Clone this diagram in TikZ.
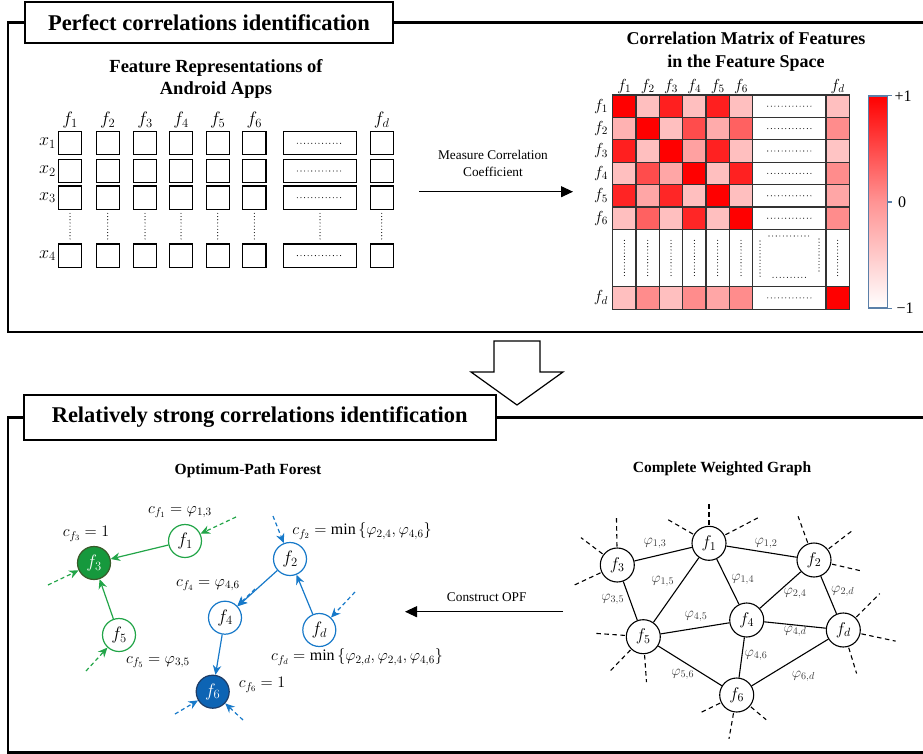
\documentclass[tikz,border=0pt]{standalone}
\usepackage{fix-cm}
\usepackage{fontspec}
\setmainfont{Liberation Serif}
\usetikzlibrary{arrows.meta}
\definecolor{ogreen}{HTML}{22A548}
\definecolor{ogreenF}{HTML}{16993D}
\definecolor{ogreenD}{HTML}{3A5A2A}
\definecolor{oblue}{HTML}{1779C9}
\definecolor{oblueF}{HTML}{0D64B4}
\definecolor{oblueD}{HTML}{1E3C66}
\definecolor{cbar}{HTML}{5A7FA8}
\definecolor{mgrid}{HTML}{333333}
\definecolor{wgray}{HTML}{3C3C3C}
\begin{document}
\begin{tikzpicture}[x=1pt,y=-1pt,
 frame/.style={line width=2.6pt},
 titlebox/.style={draw, line width=2pt, fill=white, inner sep=0pt, font=\fontsize{22.5}{27}\selectfont\bfseries},
 htitle/.style={align=center, font=\fontsize{18.5}{22.5}\selectfont\bfseries, inner sep=0pt},
 subtitle/.style={font=\fontsize{15.5}{18}\selectfont\bfseries, inner sep=0pt},
 mathlab/.style={font=\fontsize{18}{20}\selectfont, inner sep=0pt},
 mlab/.style={font=\fontsize{16}{18}\selectfont, inner sep=0pt},
 fcell/.style={draw, line width=1.1pt, minimum width=23.3pt, minimum height=23.3pt, inner sep=0pt, outer sep=0pt},
 mcell/.style={draw=mgrid, line width=1.1pt, minimum width=23.33pt, minimum height=22.4pt, inner sep=0pt, outer sep=0pt},
 dotln/.style={line width=1.1pt, line cap=round, dash pattern=on 0pt off 3.6pt},
 vdotln/.style={line width=1.1pt, line cap=round, dash pattern=on 0pt off 3.2pt},
 bigarr/.style={line width=1.1pt, -{Triangle[length=12pt,width=11pt]}},
 smalltxt/.style={font=\fontsize{13.3}{17}\selectfont, inner sep=0pt, align=center},
 cbtxt/.style={font=\fontsize{16}{18}\selectfont, inner sep=0pt},
 onode/.style={circle, draw, line width=1.2pt, fill=white, minimum size=33pt, inner sep=0pt, font=\fontsize{18}{20}\selectfont},
 gnode/.style={circle, draw, line width=1.1pt, fill=white, minimum size=34pt, inner sep=0pt, font=\fontsize{17}{19}\selectfont},
 oarr/.style={line width=1.2pt, -{Stealth[length=9.5pt,width=8.5pt]}},
 odash/.style={oarr, dash pattern=on 4pt off 3pt},
 gedge/.style={line width=1.1pt},
 stub/.style={line width=1.1pt, dash pattern=on 4.5pt off 3.5pt},
 wlab/.style={font=\fontsize{14.5}{16}\selectfont, text=wgray, inner sep=0pt},
 clab/.style={font=\fontsize{16}{18}\selectfont, inner sep=0pt}
]
\useasboundingbox (0,0) rectangle (923,754);

% ================= top frame =================
\node[titlebox, minimum width=368pt, minimum height=41.5pt] (t1) at (209,22.5) {Perfect correlations identification};
\draw[frame] (t1.west) -- (8,22.5) -- (8,332) -- (923,332);
\draw[frame] (t1.east) -- (923,22.5);

% feature representations
\node[htitle] (frt) at (216,79) {Feature Representations of\\Android Apps};
\foreach \xx [count=\k] in {70,107.7,145,181,217.7,254.3}{
  \node[mathlab] (fl\k) at (\xx,120) {$f_{\k}$};
}
\node[mathlab] (fld) at (381.7,120) {$f_d$};
\foreach \i/\yy in {1/143.3,2/171,3/197.7,4/255.6}{
  \node[mathlab, anchor=east] (xl\i) at (56,\yy) {$x_{\i}$};
  \foreach \xx [count=\k] in {70,107.7,145,181,217.7,254.3}{
    \node[fcell] (c\i-\k) at (\xx,\yy) {};
  }
  \node[fcell, minimum width=73.3pt] (c\i-w) at (320,\yy) {};
  \draw[dotln] ([xshift=14pt]c\i-w.west) -- ([xshift=-14pt]c\i-w.east);
  \node[fcell] (c\i-d) at (381.7,\yy) {};
}
\foreach \k in {1,...,6,w,d}{
  \draw[vdotln] ([yshift=-4pt]c3-\k.south) -- ([yshift=5pt]c4-\k.north);
}

% measure arrow
\coordinate (mA) at (419,191.7);
\coordinate (mB) at (573,191.7);
\draw[bigarr] (mA) -- (mB);
\node[smalltxt] (mtxt) at (493,163.5) {Measure Correlation\\Coefficient};

% correlation matrix
\node[htitle, font=\fontsize{18}{23}\selectfont\bfseries] (cmt) at (746,51.5) {Correlation Matrix of Features\\in the Feature Space};
\foreach \i/\yy/\va/\vb/\vc/\vd/\ve/\vf/\vg in {
 1/106.2/100/25/88/25/88/25/25,
 2/128.6/30/100/25/70/33/62/45,
 3/151/88/25/100/37/87/25/23,
 4/173.4/25/70/35/100/25/87/45,
 5/195.8/86/35/85/25/100/25/35,
 6/218.2/25/62/25/85/25/100/45,
 7/297.9/25/45/25/45/35/45/100}{
  \foreach \v [count=\k] in {\va,\vb,\vc,\vd,\ve,\vf}{
    \edef\pct{\v}
    \node[mcell, fill=red!\pct!white] (m\i-\k) at ({612.7+23.33*(\k-0.5)},\yy) {};
  }
  \node[mcell, minimum width=73.3pt, fill=white] (m\i-w) at (789.35,\yy) {};
  \draw[dotln] ([xshift=15pt]m\i-w.west) -- ([xshift=-15pt]m\i-w.east);
  \edef\pct{\vg}
  \node[mcell, fill=red!\pct!white] (m\i-d) at (837.65,\yy) {};
}
\foreach \k in {1,...,6}{
  \node[mcell, minimum height=57.3pt, fill=white] (mD-\k) at ({612.7+23.33*(\k-0.5)},258) {};
  \draw[vdotln] ([yshift=-11pt]mD-\k.north) -- ([yshift=10pt]mD-\k.south);
  \node[mlab] (mc\k) at ({612.7+23.33*(\k-0.5)},86.5) {$f_{\k}$};
}
\node[mcell, minimum width=73.3pt, minimum height=57.3pt, fill=white] (mD-w) at (789.35,258) {};
\draw[dotln] (769,236) -- (809,236);
\draw[vdotln] (760,241) -- (760,277);
\draw[dotln] (773,277.3) -- (809,277.3);
\draw[vdotln] (819,239) -- (819,273);
\node[mcell, minimum height=57.3pt, fill=white] (mD-d) at (837.65,258) {};
\draw[vdotln] ([yshift=-11pt]mD-d.north) -- ([yshift=10pt]mD-d.south);
\node[mlab] (mcd) at (837.65,86.5) {$f_d$};
\foreach \i/\yy in {1/106.2,2/128.6,3/151,4/173.4,5/195.8,6/218.2}{
  \node[mlab] (mr\i) at (601,\yy) {$f_{\i}$};
}
\node[mlab] (mrd) at (601,297.9) {$f_d$};

% colour bar
\node[draw=cbar, line width=1.2pt, minimum width=19pt, minimum height=212pt, inner sep=0pt,
      top color=red, bottom color=white, middle color=red!42] (cb) at (877.8,202) {};
\draw[cbar, line width=1.2pt] (cb.north east) -- ++(4,0);
\draw[cbar, line width=1.2pt] (cb.east) -- ++(4,0);
\draw[cbar, line width=1.2pt] (cb.south east) -- ++(4,0);
\node[cbtxt] (cbp) at (903,96) {+1};
\node[cbtxt] (cbz) at (902,202) {0};
\node[cbtxt] (cbm) at (905,308.5) {−1};

% hollow arrow between stages
\draw[line width=1.2pt, fill=white] (494,341) -- (540,341) -- (540,372) -- (563,372) -- (517,405) -- (471,372) -- (494,372) -- cycle;

% ================= bottom frame =================
\node[titlebox, minimum width=472.5pt, minimum height=45pt] (t2) at (259.75,417.5) {Relatively strong correlations identification};
\draw[frame] (t2.west) -- (8,417.5) -- (8,752.5) -- (923,752.5);
\draw[frame] (t2.east) -- (923,417.5);

\node[subtitle] (opft) at (248,471) {Optimum-Path Forest};
\node[subtitle] (cwgt) at (722,469) {Complete Weighted Graph};

% ---- optimum-path forest
\node[onode, draw=ogreen] (o1) at (185,541) {$f_1$};
\node[onode, draw=ogreenD, fill=ogreenF, text=white] (o3) at (94,563) {$f_3$};
\node[onode, draw=ogreen] (o5) at (119,635) {$f_5$};
\node[onode, draw=oblue] (o4) at (225,617.7) {$f_4$};
\node[onode, draw=oblueD, fill=oblueF, text=white] (o6) at (212.7,691.7) {$f_6$};
\node[onode, draw=oblue] (o2) at (290,559) {$f_2$};
\node[onode, draw=oblue] (od) at (319.3,630) {$f_d$};

\draw[oarr, ogreen] (o1) -- (o3);
\draw[oarr, ogreen] (o5) -- (o3);
\draw[oarr, oblue] (o2) -- (o4);
\draw[oarr, oblue] (od) -- (o2);
\draw[oarr, oblue] (o4) -- (o6);

\coordinate (i1) at (236,517);
\coordinate (i3) at (48,585);
\coordinate (i5) at (86,671);
\coordinate (i2) at (273,516);
\coordinate (id) at (355,592);
\coordinate (i4) at (255,589);
\coordinate (i6a) at (175,714);
\coordinate (i6b) at (243,720);
\draw[odash, ogreen] (i1) -- (o1);
\draw[odash, ogreen] (i3) -- (o3);
\draw[odash, ogreen] (i5) -- (o5);
\draw[odash, oblue] (i2) -- (o2);
\draw[odash, oblue] (id) -- (od);
\draw[odash, oblue] (i4) -- (o4);
\draw[odash, oblue] (i6a) -- (o6);
\draw[odash, oblue] (i6b) -- (o6);

\node[clab] (l1) at (180,512) {$c_{f_1}=\varphi_{1,3}$};
\node[clab] (l3) at (86,534) {$c_{f_3}=1$};
\node[clab] (l4) at (208,585) {$c_{f_4}=\varphi_{4,6}$};
\node[clab] (l5) at (158,662) {$c_{f_5}=\varphi_{3,5}$};
\node[clab] (l6) at (262,685) {$c_{f_6}=1$};
\node[clab] (l2) at (362,531) {$c_{f_2}=\min\,\{\varphi_{2,4},\varphi_{4,6}\}$};
\node[clab] (ld) at (357,657) {$c_{f_d}=\min\,\{\varphi_{2,d},\varphi_{2,4},\varphi_{4,6}\}$};

% construct OPF arrow
\coordinate (cA) at (563,611.7);
\coordinate (cB) at (405,611.7);
\draw[bigarr] (cA) -- (cB);
\node[smalltxt] (ctxt) at (486.7,597) {Construct OPF};

% ---- complete weighted graph
\node[gnode] (g1) at (709,543.3) {$f_1$};
\node[gnode] (g3) at (617.3,565) {$f_3$};
\node[gnode] (g5) at (643.3,636.7) {$f_5$};
\node[gnode] (g4) at (746.7,620) {$f_4$};
\node[gnode] (g6) at (736.7,695) {$f_6$};
\node[gnode] (g2) at (814,560) {$f_2$};
\node[gnode] (gd) at (843.3,630) {$f_d$};

\foreach \a/\b in {g1/g3,g1/g2,g1/g5,g1/g4,g3/g5,g5/g4,g5/g6,g4/g6,g4/g2,g4/gd,g2/gd,g6/gd}{
  \draw[gedge] (\a) -- (\b);
}

\node[wlab] (w13) at (655,543.3) {$\varphi_{1,3}$};
\node[wlab] (w15) at (662.7,581.7) {$\varphi_{1,5}$};
\node[wlab] (w35) at (612.7,599.3) {$\varphi_{3,5}$};
\node[wlab] (w14) at (742.7,579.3) {$\varphi_{1,4}$};
\node[wlab] (w45) at (696,616) {$\varphi_{4,5}$};
\node[wlab] (w56) at (682.7,674) {$\varphi_{5,6}$};
\node[wlab] (w46) at (756,655) {$\varphi_{4,6}$};
\node[wlab] (w12) at (766,543.3) {$\varphi_{1,2}$};
\node[wlab] (w24) at (795,593.3) {$\varphi_{2,4}$};
\node[wlab] (w2d) at (842.7,591.7) {$\varphi_{2,d}$};
\node[wlab] (w4d) at (795,631.7) {$\varphi_{4,d}$};
\node[wlab] (w6d) at (803.3,676.7) {$\varphi_{6,d}$};

\foreach \n/\a/\l in {g1/90/24, g1/150/29, g1/27.5/39,
                      g3/91/29, g3/143/27, g3/205/31,
                      g5/176/29, g5/226/30, g5/274/27,
                      g6/206/24, g6/260/26, g6/320/20,
                      g2/110/28, g2/37.5/32, g2/347/31,
                      gd/45/33, gd/348/35, gd/287/27}{
  \draw[stub] ([shift={(\a:18.5pt)}]\n.center) -- ([shift={(\a:{18.5pt+\l pt})}]\n.center);
}
\end{tikzpicture}
\end{document}
